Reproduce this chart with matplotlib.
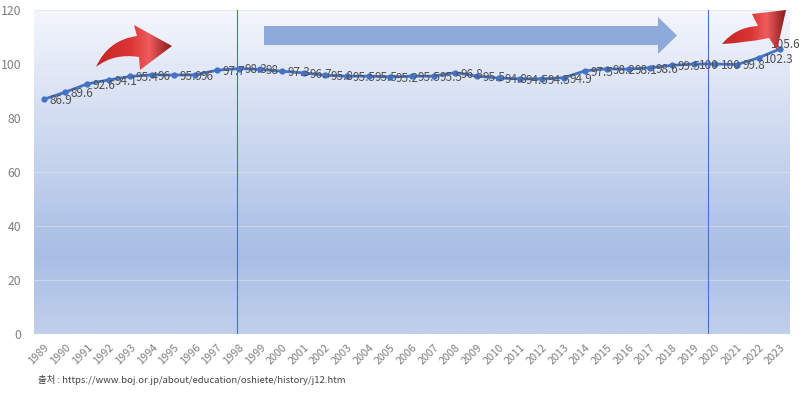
import numpy as np
import matplotlib.pyplot as plt
from matplotlib.path import Path
from matplotlib.patches import PathPatch, Polygon
from matplotlib.colors import LinearSegmentedColormap

plt.rcParams['font.family'] = ['Noto Sans CJK KR', 'DejaVu Sans']

# ---- data ----
years = list(range(1989, 2024))
cpi = [86.9, 89.6, 92.6, 94.1, 95.4, 96.0, 95.9, 96.0, 97.7, 98.3,
       98.0, 97.3, 96.7, 95.8, 95.5, 95.5, 95.2, 95.5, 95.5, 96.8,
       95.5, 94.8, 94.5, 94.5, 94.9, 97.5, 98.2, 98.1, 98.6, 99.5,
       100.0, 100.0, 99.8, 102.3, 105.6]
y_ticks = [0, 20, 40, 60, 80, 100, 120]
marker_years = [1997.92, 2019.67]
source = "출처 : https://www.boj.or.jp/about/education/oshiete/history/j12.htm"

W, H = 800, 393
fig = plt.figure(figsize=(W / 100, H / 100), dpi=100)
ax = fig.add_axes([34 / W, 1 - 334 / H, 756 / W, 324 / H])

# background gradient of the plot area
bg = LinearSegmentedColormap.from_list(
    "bg", [(0, "#c0cfeb"), (0.25, "#a9bee5"), (1.0, "#f4f6fc")])
grad = np.linspace(0, 1, 256).reshape(-1, 1)
ax.imshow(grad, cmap=bg, aspect="auto", extent=[0, 1, 0, 1],
          transform=ax.transAxes, origin="lower", zorder=0)

for t in y_ticks[1:]:
    ax.axhline(t, color="#dde3ef", lw=0.8, alpha=0.6, zorder=1)
for xv in marker_years:
    ax.axvline(xv, color="#4472c4", lw=0.8, zorder=2)

ax.plot(years, cpi, color="#4472c4", lw=2, marker="o", ms=3.5, zorder=3)

for i, (x, v) in enumerate(zip(years, cpi)):
    lab = f"{v:g}"
    off = (4, -1)
    if i == len(years) - 1:
        off = (-7, 3)
    ax.annotate(lab, (x, v), xytext=off, textcoords="offset points",
                ha="left", va="center", fontsize=8.5, color="#505050", zorder=4)

ax.set_xlim(1988.55, 2023.45)
ax.set_ylim(0, 120)
ax.set_yticks(y_ticks)
ax.set_xticks(years)
ax.set_xticklabels([str(y) for y in years], rotation=45, ha="right",
                   rotation_mode="anchor", fontsize=7.8, color="#7f7f7f")
ax.tick_params(axis="x", length=0, pad=6)
ax.tick_params(axis="y", length=0, pad=9, labelsize=8.8, labelcolor="#7f7f7f")
for s in ax.spines.values():
    s.set_visible(False)

fig.text(38 / W, 1 - 380 / H, source, fontsize=6.8, color="#404040",
         ha="left", va="center")

# ---- decorative arrows drawn in pixel space ----
ov = fig.add_axes([0, 0, 1, 1], facecolor="none")
ov.set_xlim(0, W)
ov.set_ylim(H, 0)
ov.axis("off")

blue = Polygon([(264, 26), (658, 26), (658, 17), (677, 35.5),
                (658, 54), (658, 45), (264, 45)],
               closed=True, facecolor="#8eaadb", edgecolor="none", zorder=5)
ov.add_patch(blue)

red = LinearSegmentedColormap.from_list(
    "red", [(0, "#c42626"), (0.45, "#dc3434"), (0.7, "#ee5c5c"), (1.0, "#8a1818")])


def curved_arrow(pts):
    codes = [Path.MOVETO, Path.CURVE3, Path.CURVE3, Path.LINETO, Path.LINETO,
             Path.LINETO, Path.LINETO, Path.CURVE3, Path.CURVE3, Path.CLOSEPOLY]
    path = Path(pts + [pts[0]], codes)
    patch = PathPatch(path, facecolor="none", edgecolor="none")
    ov.add_patch(patch)
    xs = [p[0] for p in pts]
    ys = [p[1] for p in pts]
    img = ov.imshow(np.linspace(0, 1, 256).reshape(1, -1), cmap=red,
                    extent=[min(xs), max(xs), max(ys), min(ys)],
                    aspect="auto", zorder=6)
    img.set_clip_path(patch)


curved_arrow([(96, 67), (108, 40), (137, 36), (134, 25), (172, 46),
              (140, 70), (139, 57), (114, 53), (96, 67)])
curved_arrow([(722, 44), (736, 27), (758, 26), (752, 14), (786, 10),
              (777, 50), (769, 38), (745, 43), (722, 44)])
ov.set_xlim(0, W)
ov.set_ylim(H, 0)

fig.savefig("out.png", dpi=100)
